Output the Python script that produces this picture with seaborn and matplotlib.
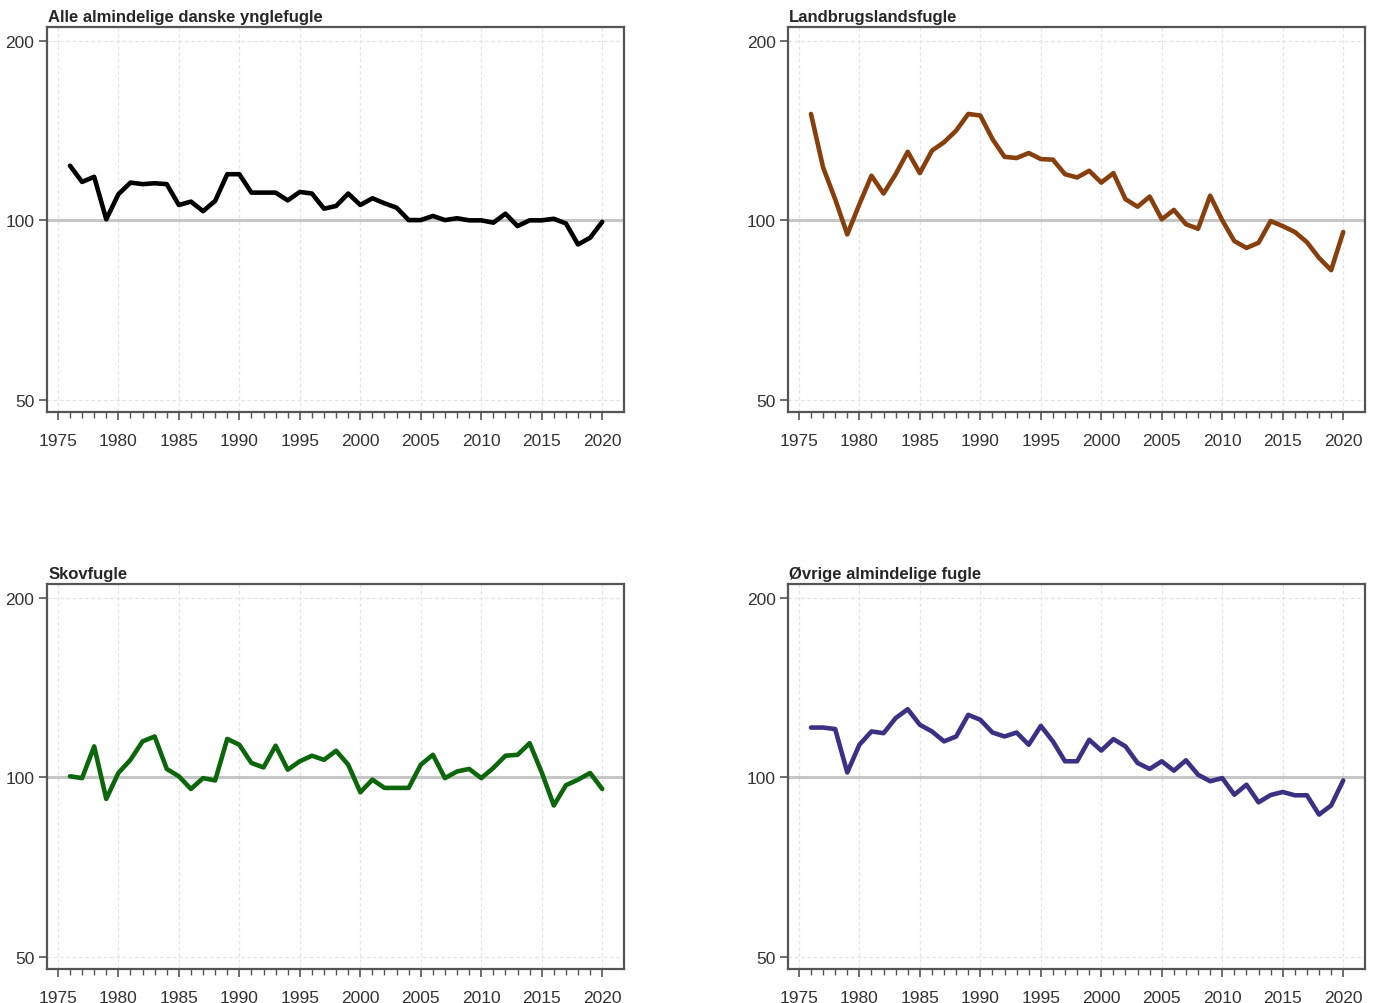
import numpy as np
import pandas as pd
import matplotlib
matplotlib.use("Agg")
import matplotlib.pyplot as plt
from matplotlib.ticker import FixedLocator, NullFormatter, NullLocator
import seaborn as sns

# Data: index values per year
years = list(range(1976, 2021))

alle = [123.5, 116, 118.3, 100.4, 110.6, 115.7, 115, 115.4, 115, 106.1,
        107.5, 103.6, 107.8, 119.5, 119.5, 111.3, 111.3, 111.3, 108, 111.6,
        110.9, 104.6, 105.7, 110.9, 106.1, 108.9, 106.8, 105, 100.1, 100.1,
        101.7, 100.1, 100.8, 100, 100, 99.1, 102.6, 97.8, 100, 100,
        100.6, 98.8, 91.1, 93.5, 99.4]

landbrug = [150.8, 122.7, 108.5, 94.7, 106.4, 118.8, 110.9, 119.5, 130.3, 120,
            130.9, 135.2, 141.4, 150.8, 149.9, 136.9, 127.8, 127.2, 129.7, 126.7,
            126.4, 119.5, 118, 121.1, 115.7, 120, 108.5, 105.4, 109.6, 100.4,
            104.1, 98.5, 96.8, 110, 100, 92.3, 89.9, 91.7, 99.7, 97.8,
            95.6, 91.9, 86.5, 82.5, 95.6]

skov = [100.4, 99.7, 112.7, 92, 101.7, 107, 114.9, 117.1, 103.3, 100.4,
        95.6, 99.7, 98.8, 116, 113.4, 105.7, 103.9, 113, 103, 106.4,
        108.7, 107, 110.8, 105, 94.4, 99.1, 96, 96, 96, 105,
        109.1, 99.7, 102.3, 103.3, 99.7, 103.7, 108.7, 109.1, 114.1, 101.9,
        89.7, 97, 99.1, 101.7, 95.6]

oevrige = [121.2, 121.2, 120.5, 101.9, 113.4, 119.4, 118.6, 125.7, 130.1, 122.5,
           119.4, 114.9, 117.1, 127.3, 124.9, 118.9, 117.1, 118.9, 113.4, 122,
           114.9, 106.4, 106.4, 115.6, 110.9, 115.9, 112.7, 105.7, 103.3, 106.4,
           102.6, 106.8, 101, 98.5, 99.7, 93.5, 97.2, 90.8, 93.4, 94.5,
           93.3, 93.3, 86.6, 89.7, 98.8]

titles = ["Alle almindelige danske ynglefugle", "Landbrugslandsfugle",
          "Skovfugle", "\u00d8vrige almindelige fugle"]
series = [alle, landbrug, skov, oevrige]
colors = ["#000000", "#873f0e", "#0c660c", "#3b3184"]

y_ticks = [50, 100, 200]
x_ticks = list(range(1975, 2021, 5))

sns.set_style("white")
plt.rcParams["font.family"] = ["Liberation Sans", "DejaVu Sans"]

fig = plt.figure(figsize=(13.77, 10.04), dpi=100)
W, H = 1377, 1004
boxes = [(47, 28), (788, 28), (47, 585), (788, 585)]
aw, ah = 577, 385

for (x0, y0), title, vals, col in zip(boxes, titles, series, colors):
    ax = fig.add_axes([x0 / W, 1 - (y0 + ah) / H, aw / W, ah / H])
    ax.grid(False)
    df = pd.DataFrame({"year": years, "index": vals})
    ax.axhline(100, color="#c6c6c6", lw=2.2, zorder=1)
    sns.lineplot(data=df, x="year", y="index", color=col, lw=3.3, ax=ax,
                 zorder=3)
    ax.set_yscale("log")
    ax.set_ylim(47.7, 211)
    ax.set_xlim(1974.1, 2021.8)
    ax.yaxis.set_major_locator(FixedLocator(y_ticks))
    ax.yaxis.set_minor_locator(NullLocator())
    ax.yaxis.set_minor_formatter(NullFormatter())
    ax.set_yticklabels([str(t) for t in y_ticks])
    ax.set_xticks(x_ticks)
    ax.set_xticks(list(range(1975, 2021)), minor=True)
    for t in x_ticks:
        ax.axvline(t, color="#e4e4e4", lw=0.9, ls=(0, (3, 2)), zorder=0)
    for t in (50, 200):
        ax.axhline(t, color="#e4e4e4", lw=0.9, ls=(0, (3, 2)), zorder=0)
    ax.tick_params(axis="both", which="major", direction="out", length=6,
                   width=1.2, color="#555555", labelsize=12.5,
                   labelcolor="#333333", bottom=True, left=True)
    ax.tick_params(axis="x", which="major", pad=9)
    ax.tick_params(axis="y", which="major", pad=3)
    ax.tick_params(axis="x", which="minor", direction="out", length=4,
                   width=1.0, color="#555555", bottom=True)
    for s in ax.spines.values():
        s.set_color("#555555")
        s.set_linewidth(1.6)
    ax.set_xlabel("")
    ax.set_ylabel("")
    ax.set_title(title, loc="left", fontsize=12, fontweight="bold",
                 pad=4, x=0.002)

fig.savefig("out.png", dpi=100)
